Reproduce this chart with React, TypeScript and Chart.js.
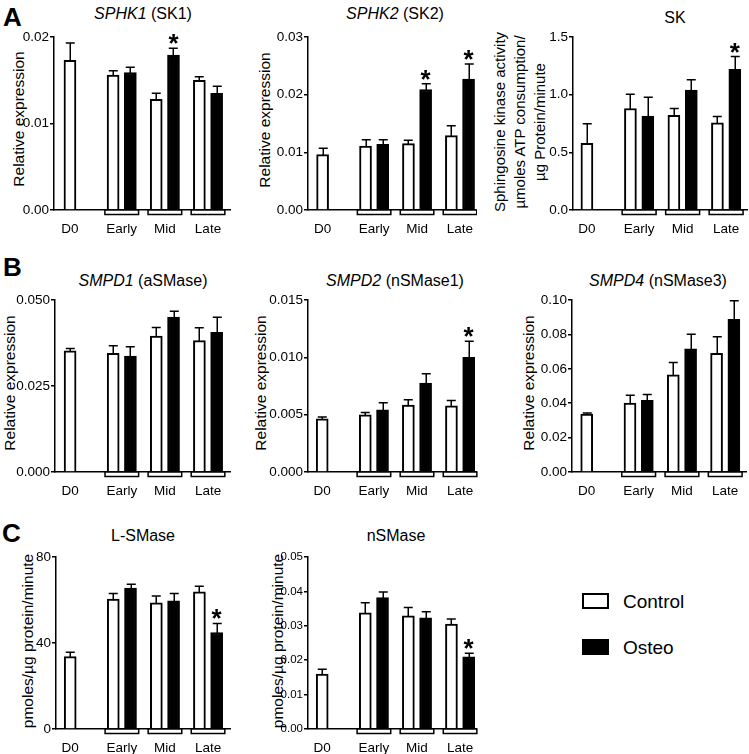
import React, { useEffect, useRef } from "react";
import { Chart, registerables } from "chart.js";

Chart.register(...registerables);

const FONT = "'Liberation Sans', Arial, Helvetica, sans-serif";

// ---------- data ----------
const categories = ["D0", "Early", "Mid", "Late"];
const seriesNames = ["Control", "Osteo"];

// A: SPHK1 (SK1)
const sphk1Control = [0.0173, 0.0156, 0.0128, 0.015];
const sphk1ControlErr = [0.002, 0.0005, 0.0007, 0.0004];
const sphk1Osteo = [null, 0.0159, 0.0179, 0.0135];
const sphk1OsteoErr = [null, 0.0006, 0.0008, 0.0008];
const sphk1Sig = [false, false, true, false];
const sphk1Ticks = [0, 0.01, 0.02];

// A: SPHK2 (SK2)
const sphk2Control = [0.0096, 0.0111, 0.0115, 0.0129];
const sphk2ControlErr = [0.0011, 0.0011, 0.0006, 0.0017];
const sphk2Osteo = [null, 0.0114, 0.0209, 0.0227];
const sphk2OsteoErr = [null, 0.0008, 0.001, 0.0026];
const sphk2Sig = [false, false, true, true];
const sphk2Ticks = [0, 0.01, 0.02, 0.03];

// A: SK activity
const skControl = [0.577, 0.88, 0.82, 0.755];
const skControlErr = [0.17, 0.124, 0.06, 0.055];
const skOsteo = [null, 0.815, 1.04, 1.22];
const skOsteoErr = [null, 0.163, 0.09, 0.11];
const skSig = [false, false, false, true];
const skTicks = [0, 0.5, 1.0, 1.5];

// B: SMPD1 (aSMase)
const smpd1Control = [0.0352, 0.0345, 0.0395, 0.0382];
const smpd1ControlErr = [0.0007, 0.0022, 0.0025, 0.0037];
const smpd1Osteo = [null, 0.0337, 0.045, 0.0406];
const smpd1OsteoErr = [null, 0.0027, 0.0017, 0.0044];
const smpd1Sig = [false, false, false, false];
const smpd1Ticks = [0, 0.025, 0.05];

// B: SMPD2 (nSMase1)
const smpd2Control = [0.00464, 0.00499, 0.00583, 0.00577];
const smpd2ControlErr = [0.00015, 0.0002, 0.00047, 0.00047];
const smpd2Osteo = [null, 0.00543, 0.00775, 0.01001];
const smpd2OsteoErr = [null, 0.0006, 0.00081, 0.00139];
const smpd2Sig = [false, false, false, true];
const smpd2Ticks = [0, 0.005, 0.01, 0.015];

// B: SMPD4 (nSMase3)
const smpd4Control = [0.0337, 0.04, 0.0565, 0.069];
const smpd4ControlErr = [0.0006, 0.0046, 0.0071, 0.0097];
const smpd4Osteo = [null, 0.0417, 0.0716, 0.0888];
const smpd4OsteoErr = [null, 0.0034, 0.0085, 0.0108];
const smpd4Sig = [false, false, false, false];
const smpd4Ticks = [0, 0.02, 0.04, 0.06, 0.08, 0.1];

// C: L-SMase activity
const lsmaseControl = [33.7, 60.4, 58.7, 63.8];
const lsmaseControlErr = [2.0, 2.6, 3.2, 2.6];
const lsmaseOsteo = [null, 65.6, 59.6, 44.9];
const lsmaseOsteoErr = [null, 1.7, 3.4, 4.2];
const lsmaseSig = [false, false, false, true];
const lsmaseTicks = [0, 40, 80];

// C: nSMase activity
const nsmaseControl = [0.016, 0.0338, 0.0329, 0.0305];
const nsmaseControlErr = [0.0014, 0.0029, 0.0024, 0.0015];
const nsmaseOsteo = [null, 0.0382, 0.0323, 0.021];
const nsmaseOsteoErr = [null, 0.0016, 0.0018, 0.001];
const nsmaseSig = [false, false, false, true];
const nsmaseTicks = [0, 0.01, 0.02, 0.03, 0.04, 0.05];

// ---------- layout ----------
const CATEGORY_POS = [0, 1.2, 2.2, 3.2];
const PAIR_OFFSET = 0.2;
const BRACKET_HALF = 0.39;
const Y_AXIS_W = 46;
const X_AXIS_H = 28;
const PAD_T = 22;
const PAD_R = 2;

type Box = { axisX: number; plotTop: number; plotBottom: number; axisEnd: number; xMin: number; xMax: number };
type Spec = {
  key: string;
  control: (number | null)[];
  controlErr: (number | null)[];
  osteo: (number | null)[];
  osteoErr: (number | null)[];
  sig: boolean[];
  yTicks: number[];
  decimals: number;
  tickFont: number;
  box: Box;
};

const PANELS: Spec[] = [
  { key: "sphk1", control: sphk1Control, controlErr: sphk1ControlErr, osteo: sphk1Osteo, osteoErr: sphk1OsteoErr, sig: sphk1Sig, yTicks: sphk1Ticks, decimals: 2, tickFont: 13.5,
    box: { axisX: 54, plotTop: 37, plotBottom: 210, axisEnd: 230, xMin: -0.37, xMax: 3.71 } },
  { key: "sphk2", control: sphk2Control, controlErr: sphk2ControlErr, osteo: sphk2Osteo, osteoErr: sphk2OsteoErr, sig: sphk2Sig, yTicks: sphk2Ticks, decimals: 2, tickFont: 13.5,
    box: { axisX: 308, plotTop: 37, plotBottom: 210, axisEnd: 475, xMin: -0.34, xMax: 3.55 } },
  { key: "sk", control: skControl, controlErr: skControlErr, osteo: skOsteo, osteoErr: skOsteoErr, sig: skSig, yTicks: skTicks, decimals: 1, tickFont: 13.5,
    box: { axisX: 573, plotTop: 37, plotBottom: 210, axisEnd: 747, xMin: -0.32, xMax: 3.68 } },
  { key: "smpd1", control: smpd1Control, controlErr: smpd1ControlErr, osteo: smpd1Osteo, osteoErr: smpd1OsteoErr, sig: smpd1Sig, yTicks: smpd1Ticks, decimals: 3, tickFont: 13.5,
    box: { axisX: 55, plotTop: 300, plotBottom: 472, axisEnd: 230, xMin: -0.35, xMax: 3.71 } },
  { key: "smpd2", control: smpd2Control, controlErr: smpd2ControlErr, osteo: smpd2Osteo, osteoErr: smpd2OsteoErr, sig: smpd2Sig, yTicks: smpd2Ticks, decimals: 3, tickFont: 13.5,
    box: { axisX: 308, plotTop: 300, plotBottom: 472, axisEnd: 476, xMin: -0.33, xMax: 3.57 } },
  { key: "smpd4", control: smpd4Control, controlErr: smpd4ControlErr, osteo: smpd4Osteo, osteoErr: smpd4OsteoErr, sig: smpd4Sig, yTicks: smpd4Ticks, decimals: 2, tickFont: 13.5,
    box: { axisX: 572, plotTop: 300, plotBottom: 472, axisEnd: 746, xMin: -0.34, xMax: 3.68 } },
  { key: "lsmase", control: lsmaseControl, controlErr: lsmaseControlErr, osteo: lsmaseOsteo, osteoErr: lsmaseOsteoErr, sig: lsmaseSig, yTicks: lsmaseTicks, decimals: 0, tickFont: 13.5,
    box: { axisX: 56, plotTop: 557, plotBottom: 729, axisEnd: 230, xMin: -0.33, xMax: 3.71 } },
  { key: "nsmase", control: nsmaseControl, controlErr: nsmaseControlErr, osteo: nsmaseOsteo, osteoErr: nsmaseOsteoErr, sig: nsmaseSig, yTicks: nsmaseTicks, decimals: 2, tickFont: 11.5,
    box: { axisX: 308, plotTop: 557, plotBottom: 729, axisEnd: 476, xMin: -0.33, xMax: 3.57 } },
];

function xPos(i: number, series: number, spec: Spec) {
  const single = spec.osteo[i] == null;
  if (single) return CATEGORY_POS[i];
  return CATEGORY_POS[i] + (series === 0 ? -PAIR_OFFSET : PAIR_OFFSET);
}

function makeOverlay(spec: Spec) {
  return {
    id: "overlay_" + spec.key,
    afterDatasetsDraw(chart: any) {
      const { ctx } = chart;
      const xs = chart.scales.x;
      const ys = chart.scales.y;
      ctx.save();
      ctx.strokeStyle = "#000";
      ctx.lineWidth = 1.5;
      ctx.lineCap = "butt";
      const vals = [spec.control, spec.osteo];
      const errs = [spec.controlErr, spec.osteoErr];
      for (let s = 0; s < 2; s++) {
        for (let i = 0; i < categories.length; i++) {
          const v = vals[s][i];
          const e = errs[s][i];
          if (v == null || e == null) continue;
          const px = Math.round(xs.getPixelForValue(xPos(i, s, spec))) + 0.25;
          const pTop = ys.getPixelForValue(v);
          const pErr = ys.getPixelForValue(v + e);
          ctx.beginPath();
          ctx.moveTo(px, pTop + 1);
          ctx.lineTo(px, pErr);
          ctx.moveTo(px - 4.5, pErr);
          ctx.lineTo(px + 4.5, pErr);
          ctx.stroke();
        }
      }
      // group brackets under the axis
      const y0 = ys.getPixelForValue(0);
      for (let i = 1; i < categories.length; i++) {
        const x1 = xs.getPixelForValue(CATEGORY_POS[i] - BRACKET_HALF);
        const x2 = xs.getPixelForValue(CATEGORY_POS[i] + BRACKET_HALF);
        ctx.fillStyle = "#fff";
        ctx.fillRect(x1, y0, x2 - x1, 4.5);
        ctx.strokeRect(x1, y0, x2 - x1, 4.5);
      }
      // significance asterisks
      ctx.font = `bold 26px ${FONT}`;
      ctx.textAlign = "center";
      ctx.textBaseline = "alphabetic";
      ctx.fillStyle = "#000";
      const m = ctx.measureText("*");
      const desc = m.actualBoundingBoxDescent || -10;
      for (let i = 0; i < categories.length; i++) {
        if (!spec.sig[i]) continue;
        const v = spec.osteo[i];
        const e = spec.osteoErr[i];
        if (v == null || e == null) continue;
        const px = xs.getPixelForValue(xPos(i, 1, spec));
        const pErr = ys.getPixelForValue(v + e);
        ctx.fillText("*", px, pErr - 4 - desc);
      }
      ctx.restore();
    },
  };
}

function BarPanel({ spec }: { spec: Spec }) {
  const ref = useRef<HTMLCanvasElement | null>(null);
  const b = spec.box;
  const left = b.axisX - Y_AXIS_W;
  const top = b.plotTop - PAD_T;
  const width = b.axisEnd - b.axisX + Y_AXIS_W + PAD_R;
  const height = b.plotBottom - b.plotTop + PAD_T + X_AXIS_H;

  useEffect(() => {
    if (!ref.current) return;
    const ctrlPts = spec.control.map((v, i) => (v == null ? null : { x: xPos(i, 0, spec), y: v })).filter(Boolean);
    const osteoPts = spec.osteo.map((v, i) => (v == null ? null : { x: xPos(i, 1, spec), y: v })).filter(Boolean);
    const chart = new Chart(ref.current, {
      type: "bar",
      data: {
        datasets: [
          { label: seriesNames[0], data: ctrlPts as any, backgroundColor: "#fff", borderColor: "#000", borderWidth: 2, barThickness: 12, grouped: false } as any,
          { label: seriesNames[1], data: osteoPts as any, backgroundColor: "#000", borderColor: "#000", borderWidth: 2, barThickness: 12, grouped: false } as any,
        ],
      },
      options: {
        responsive: false,
        animation: false,
        devicePixelRatio: 1,
        events: [],
        layout: { padding: { left: 0, right: PAD_R, top: PAD_T, bottom: 0 } },
        plugins: { legend: { display: false }, tooltip: { enabled: false }, title: { display: false } },
        scales: {
          x: {
            type: "linear",
            min: b.xMin,
            max: b.xMax,
            offset: false,
            afterBuildTicks: (s: any) => {
              s.ticks = CATEGORY_POS.map((v) => ({ value: v }));
            },
            afterFit: (s: any) => {
              s.height = X_AXIS_H;
            },
            ticks: {
              callback: (_v: any, i: number) => categories[i],
              autoSkip: false,
              maxRotation: 0,
              minRotation: 0,
              padding: 3,
              color: "#000",
              font: { family: FONT, size: 13.5 },
            },
            grid: { display: false },
            border: { display: true, color: "#000", width: 1.5 },
          } as any,
          y: {
            type: "linear",
            min: spec.yTicks[0],
            max: spec.yTicks[spec.yTicks.length - 1],
            afterBuildTicks: (s: any) => {
              s.ticks = spec.yTicks.map((v) => ({ value: v }));
            },
            afterFit: (s: any) => {
              s.width = Y_AXIS_W;
            },
            ticks: {
              callback: (v: any) => Number(v).toFixed(spec.decimals),
              autoSkip: false,
              padding: 1,
              color: "#000",
              font: { family: FONT, size: spec.tickFont },
            },
            grid: { display: true, drawOnChartArea: false, drawTicks: true, tickLength: 4, color: "#000", lineWidth: 1.5 },
            border: { display: true, color: "#000", width: 1.5 },
          } as any,
        },
      } as any,
      plugins: [makeOverlay(spec)],
    });
    return () => chart.destroy();
  }, []);

  return (
    <canvas
      ref={ref}
      width={width}
      height={height}
      style={{ position: "absolute", left, top, width, height }}
    />
  );
}

type TitleSpec = { parts: [string, boolean][]; x: number; y: number };
const TITLES: TitleSpec[] = [
  { parts: [["SPHK1", true], [" (SK1)", false]], x: 143, y: 14 },
  { parts: [["SPHK2", true], [" (SK2)", false]], x: 395, y: 14 },
  { parts: [["SK", false]], x: 675, y: 18 },
  { parts: [["SMPD1", true], [" (aSMase)", false]], x: 143, y: 281 },
  { parts: [["SMPD2", true], [" (nSMase1)", false]], x: 395, y: 281 },
  { parts: [["SMPD4", true], [" (nSMase3)", false]], x: 658, y: 281 },
  { parts: [["L-SMase", false]], x: 143, y: 536 },
  { parts: [["nSMase", false]], x: 396, y: 536 },
];

const Y_TITLES: { lines: string[]; x: number; y: number }[] = [
  { lines: ["Relative expression"], x: 18.5, y: 119 },
  { lines: ["Relative expression"], x: 265, y: 120 },
  { lines: ["Sphingosine kinase activity", "µmoles ATP consumption/", "µg Protein/minute"], x: 520, y: 122 },
  { lines: ["Relative expression"], x: 9.5, y: 383 },
  { lines: ["Relative expression"], x: 261, y: 383 },
  { lines: ["Relative expression"], x: 529, y: 383 },
  { lines: ["pmoles/µg protein/minute"], x: 28, y: 641 },
  { lines: ["pmoles/µg protein/minute"], x: 278, y: 641 },
];

const LETTERS = [
  { t: "A", x: 3, y: 17 },
  { t: "B", x: 3, y: 267 },
  { t: "C", x: 2, y: 533 },
];

export default function App() {
  return (
    <div style={{ position: "absolute", left: 0, top: 0, width: 749, height: 754, background: "#fff", fontFamily: FONT, color: "#000", overflow: "hidden" }}>
      {TITLES.map((t, i) => (
        <div key={"t" + i} style={{ position: "absolute", left: t.x, top: t.y, transform: "translate(-50%, -50%)", fontSize: 16, lineHeight: "16px", whiteSpace: "nowrap" }}>
          {t.parts.map(([s, it], j) => (
            <span key={j} style={{ fontStyle: it ? "italic" : "normal" }}>{s}</span>
          ))}
        </div>
      ))}
      {Y_TITLES.map((t, i) => (
        <div key={"y" + i} style={{ position: "absolute", left: t.x, top: t.y, transform: "translate(-50%, -50%) rotate(-90deg)", fontSize: t.lines.length > 1 ? 15 : 15.5, lineHeight: t.lines.length > 1 ? "20px" : "18px", whiteSpace: "nowrap", textAlign: "center" }}>
          {t.lines.map((l, j) => (
            <div key={j}>{l}</div>
          ))}
        </div>
      ))}
      {LETTERS.map((l) => (
        <div key={l.t} style={{ position: "absolute", left: l.x, top: l.y, transform: "translateY(-50%)", fontSize: 26, lineHeight: "26px", fontWeight: "bold" }}>
          {l.t}
        </div>
      ))}
      {PANELS.map((p) => (
        <BarPanel key={p.key} spec={p} />
      ))}
      {/* legend */}
      <div style={{ position: "absolute", left: 582, top: 593, width: 27, height: 16, boxSizing: "border-box", border: "2px solid #000", background: "#fff" }} />
      <div style={{ position: "absolute", left: 623, top: 601, transform: "translateY(-50%)", fontSize: 19, lineHeight: "19px", whiteSpace: "nowrap" }}>{seriesNames[0]}</div>
      <div style={{ position: "absolute", left: 582, top: 639, width: 27, height: 16, boxSizing: "border-box", border: "2px solid #000", background: "#000" }} />
      <div style={{ position: "absolute", left: 623, top: 647, transform: "translateY(-50%)", fontSize: 19, lineHeight: "19px", whiteSpace: "nowrap" }}>{seriesNames[1]}</div>
    </div>
  );
}
